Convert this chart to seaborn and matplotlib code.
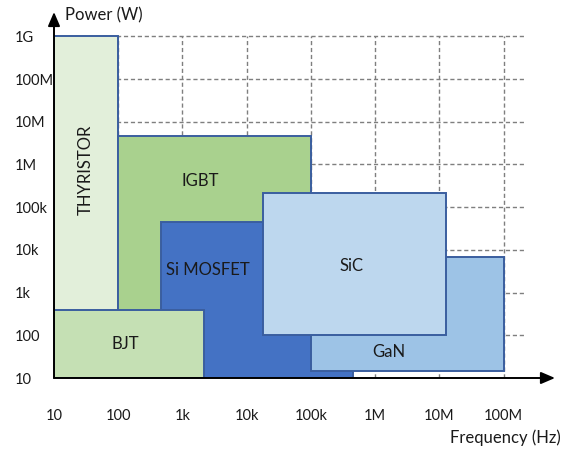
import matplotlib
matplotlib.use("Agg")
import matplotlib.pyplot as plt
import seaborn as sns
import numpy as np

# ---- data ----
devices = ["THYRISTOR", "IGBT", "Si MOSFET", "GaN", "SiC", "BJT"]
freq_lo = [10, 100, 470, 1e5, 1.8e4, 10]
freq_hi = [100, 1e5, 4.5e5, 1e8, 1.25e7, 2.2e3]
power_lo = [10, 10, 10, 14.5, 100, 10]
power_hi = [1e9, 4.7e6, 4.5e4, 6.8e3, 2.15e5, 390]
colors = ["#E2EFDA", "#A9D18E", "#4472C4", "#9DC3E6", "#BDD7EE", "#C5E0B4"]
label_x = [10**1.5, 10**3.27, 10**3.40, 10**6.22, 10**5.63, 10**2.11]
label_y = [10**5.87, 10**5.61, 10**3.53, 10**1.61, 10**3.62, 10**1.80]
label_rot = [90, 0, 0, 0, 0, 0]

xticks = [1e1, 1e2, 1e3, 1e4, 1e5, 1e6, 1e7, 1e8]
xticklabels = ["10", "100", "1k", "10k", "100k", "1M", "10M", "100M"]
yticks = [1e1, 1e2, 1e3, 1e4, 1e5, 1e6, 1e7, 1e8, 1e9]
yticklabels = ["10", "100", "1k", "10k", "100k", "1M", "10M", "100M", "1G"]

sns.set_theme(style="white")
plt.rcParams["font.family"] = ["Lato", "DejaVu Sans"]

fig = plt.figure(figsize=(5.64, 4.49), dpi=100)
ax = fig.add_axes([54 / 564, (449 - 378) / 449, 501 / 564, 366 / 449])
ax.set_xscale("log")
ax.set_yscale("log")
ax.set_xlim(10, 10**8.80)
ax.set_ylim(10, 10**9.57)

# grid
ax.hlines(yticks[1:], 10, 10**8.34, colors="#7F7F7F", linestyles=(0, (3, 2)), linewidth=1.0, zorder=1)
ax.vlines(xticks[1:], 10, 1e9, colors="#7F7F7F", linestyles=(0, (3, 2)), linewidth=1.0, zorder=1)

for i, name in enumerate(devices):
    ax.bar(x=freq_lo[i], height=power_hi[i] - power_lo[i], width=freq_hi[i] - freq_lo[i],
           bottom=power_lo[i], align="edge",
           color=colors[i], edgecolor="#3A5E9F", linewidth=1.4, zorder=2 + i)
    ax.text(label_x[i], label_y[i], name, rotation=label_rot[i],
            ha="center", va="center", fontsize=12, color="#1a1a1a", zorder=20)

for s in ax.spines.values():
    s.set_visible(False)

ax.set_xticks(xticks)
ax.set_xticklabels(xticklabels)
ax.set_yticks(yticks)
ax.set_yticklabels(yticklabels, ha="left")
ax.minorticks_off()
ax.tick_params(axis="x", length=0, pad=22, labelsize=10.5, labelcolor="#1a1a1a")
ax.tick_params(axis="y", length=0, pad=28.5, labelsize=10.5, labelcolor="#1a1a1a")

# arrows for axes
ax.annotate("", xy=(1, 0), xytext=(0, 0), xycoords="axes fraction",
            arrowprops=dict(arrowstyle="-|>,head_length=0.7,head_width=0.3", color="black", lw=1.4, shrinkA=0, shrinkB=0), zorder=30)
ax.annotate("", xy=(0, 1), xytext=(0, 0), xycoords="axes fraction",
            arrowprops=dict(arrowstyle="-|>,head_length=0.7,head_width=0.3", color="black", lw=1.4, shrinkA=0, shrinkB=0), zorder=30)

fig.text(65 / 564, 1 - 15 / 449, "Power (W)", ha="left", va="center", fontsize=12, color="#1a1a1a")
fig.text(561 / 564, 1 - 438 / 449, "Frequency (Hz)", ha="right", va="center", fontsize=12, color="#1a1a1a")

fig.savefig("out.png", dpi=100)
